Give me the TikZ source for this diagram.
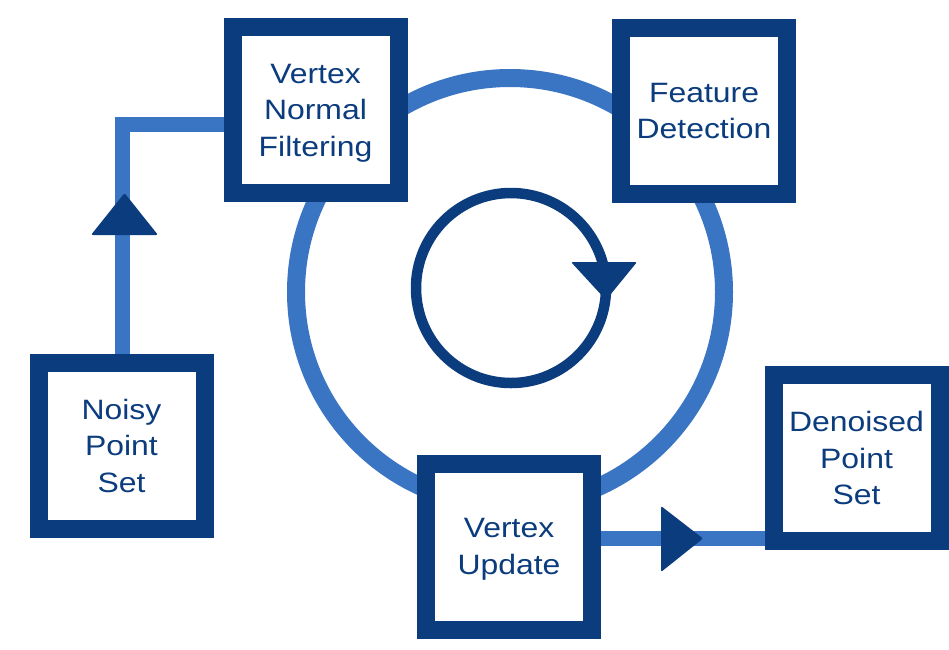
\documentclass[tikz,border=0pt]{standalone}
\usepackage{fontspec}
\setmainfont{Liberation Sans}[FakeStretch=1.14]
\usetikzlibrary{backgrounds}
\definecolor{dkblue}{HTML}{0B3C7D}
\definecolor{ltblue}{HTML}{3A75C4}
\begin{document}
\begin{tikzpicture}[x=1pt,y=-1pt,
  box/.style={draw=dkblue, line width=18pt, fill=white, minimum width=166pt,
    minimum height=166pt, inner sep=0pt, align=center, text=dkblue,
    text depth=0pt, font=\fontsize{28pt}{36.5pt}\selectfont},
  flow/.style={draw=ltblue, line width=15pt},
  cyclering/.style={draw=ltblue, line width=18pt},
  loopring/.style={draw=dkblue, line width=10.5pt},
  head/.style={fill=dkblue, rounded corners=2pt}]
\useasboundingbox (0,0) rectangle (949,649);

% boxes
\node[box] (vnf) at (315.5,110) {Vertex\\Normal\\Filtering};
\node[box] (fd) at (704,111) {Feature\\Detection};
\node[box] (noisy) at (121.5,445.5) {Noisy\\Point\\Set};
\node[box] (vu) at (509,546.5) {Vertex\\Update};
\node[box] (den) at (856.5,458) {Denoised\\Point\\Set};

% inner rotation arrow
\coordinate (ic) at (511,288);
\draw[loopring] (ic) circle[radius=95pt];
\coordinate (ia) at (606,300);
\fill[head] (571,262) -- (637,262) -- (ia) -- cycle;

\begin{scope}[on background layer]
\fill[white] (0,0) rectangle (949,649);
% big cycle
\coordinate (cc) at (510,292);
\draw[cyclering] (cc) circle[radius=214pt];
% left connector
\coordinate (lc) at (122.5,124.5);
\draw[flow] (noisy.north -| lc) -- (lc) -- (lc -| vnf.west);
% right connector
\coordinate (rc) at (601,538.5);
\draw[flow] (rc -| vu.east) -- (rc -| den.west);
\end{scope}

\fill[head] (124.5,193) -- (158,235) -- (91,235) -- cycle;
\fill[head] (703,538.5) -- (661,572) -- (661,506) -- cycle;
\end{tikzpicture}
\end{document}
